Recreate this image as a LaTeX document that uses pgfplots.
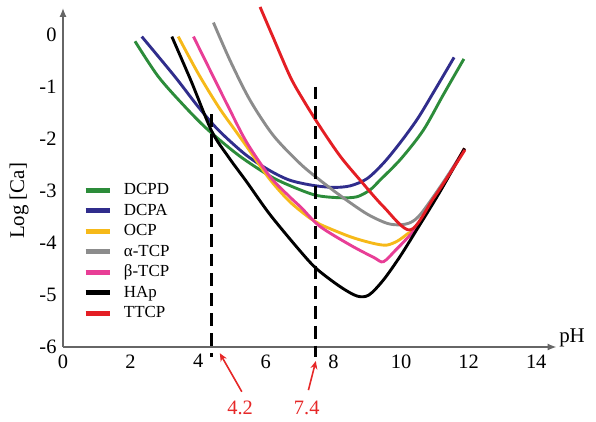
\documentclass[border=0pt]{standalone}
\usepackage{fontspec}
\setmainfont{Liberation Serif}
\usepackage{pgfplots}
\pgfplotsset{compat=1.18}
\usetikzlibrary{arrows.meta}

\definecolor{cDCPD}{RGB}{44,140,58}
\definecolor{cDCPA}{RGB}{48,45,140}
\definecolor{cOCP}{RGB}{246,185,25}
\definecolor{cATCP}{RGB}{140,140,140}
\definecolor{cBTCP}{RGB}{232,62,150}
\definecolor{cTTCP}{RGB}{228,30,36}
\definecolor{cAnn}{RGB}{230,40,40}

\begin{document}
\begin{tikzpicture}
\useasboundingbox (0,0) rectangle (596bp,422bp);
\begin{axis}[
  at={(63bp,75bp)}, anchor=south west,
  scale only axis, width=493.5bp, height=339bp,
  xmin=0, xmax=14.6, ymin=-6, ymax=0.52,
  axis lines=left, clip=false,
  axis line style={draw=gray!80!black, line width=1.3pt, -{Latex[length=9pt,width=7pt]}},
  xtick={0,2,...,14}, xticklabels={0,2,4,6,8,10,12,14},
  ytick={-6,-5,...,0}, yticklabels={-6,-5,-4,-3,-2,-1,0},
  major tick length=0pt,
  tick label style={font=\fontsize{20.5}{24}\selectfont},
  xticklabel style={yshift=-4bp},
  yticklabel style={xshift=-3bp},
  xlabel={pH},
  xlabel style={at={(axis description cs:1.0315,0.026)}, anchor=center, font=\fontsize{21}{24}\selectfont},
  ylabel={Log [Ca]},
  ylabel style={at={(axis description cs:-0.089,0.431)}, anchor=center, font=\fontsize{21}{24}\selectfont},
  every axis plot/.append style={line width=2.9pt, smooth, tension=0.5},
  legend style={at={(axis description cs:0.0405,0.493)}, anchor=north west,
    draw=none, fill=none, inner sep=0pt, row sep=0pt, column sep=10bp,
    font=\fontsize{17}{20.5}\selectfont,
    nodes={inner sep=1.75bp, text height=13bp, text depth=4bp}},
  legend cell align=left,
  legend image code/.code={\draw[#1, line width=5pt] (0bp,0bp) -- (24bp,0bp);},
]
\addplot[cDCPD] coordinates {(2.13,-0.12) (2.82,-0.80) (3.61,-1.38) (4.30,-1.83) (5.21,-2.32) (6.09,-2.70) (6.69,-2.89) (7.47,-3.08) (8.2,-3.13) (8.7,-3.11) (9.08,-2.98) (9.38,-2.79) (10.0,-2.38) (10.66,-1.83) (11.25,-1.15) (11.86,-0.46)};
\addlegendentry{DCPD}
\addplot[cDCPA] coordinates {(2.33,-0.03) (3.31,-0.80) (4.0,-1.38) (4.6,-1.83) (5.4,-2.3) (6.1,-2.6) (6.7,-2.79) (7.38,-2.89) (8.0,-2.93) (8.5,-2.9) (9.0,-2.76) (9.5,-2.45) (10.0,-2.05) (10.5,-1.6) (11.0,-1.06) (11.57,-0.43)};
\addlegendentry{DCPA}
\addplot[cOCP] coordinates {(3.41,-0.03) (4.0,-0.74) (4.6,-1.38) (5.09,-1.83) (5.43,-2.14) (6.1,-2.76) (6.7,-3.2) (7.3,-3.52) (7.6,-3.64) (8.5,-3.88) (9.2,-4.01) (9.58,-4.04) (9.9,-3.96) (10.2,-3.82) (10.45,-3.70) (11.12,-3.02) (11.88,-2.18)};
\addlegendentry{OCP}
\addplot[cATCP] coordinates {(4.45,0.24) (4.95,-0.5) (5.53,-1.25) (6.22,-1.93) (7.01,-2.47) (7.6,-2.79) (8.27,-3.12) (8.99,-3.44) (9.58,-3.62) (9.97,-3.65) (10.3,-3.6) (10.6,-3.43) (11.2,-2.88) (11.88,-2.2)};
\addlegendentry{α-TCP}
\addplot[cBTCP] coordinates {(3.86,-0.03) (4.40,-0.74) (4.89,-1.38) (5.43,-2.06) (6.12,-2.72) (6.72,-3.12) (7.05,-3.32) (7.6,-3.68) (8.5,-4.04) (9.2,-4.28) (9.48,-4.36) (9.85,-4.13) (10.15,-3.93) (10.45,-3.70) (11.12,-3.02) (11.88,-2.18)};
\addlegendentry{β-TCP}
\addplot[black] coordinates {(3.22,-0.03) (3.8,-0.9) (4.4,-1.85) (4.9,-2.35) (5.43,-2.82) (6.12,-3.45) (7.01,-4.15) (7.51,-4.5) (8.2,-4.84) (8.7,-5.02) (9.05,-5.0) (9.48,-4.71) (9.97,-4.26) (10.46,-3.75) (11.12,-3.05) (11.88,-2.18)};
\addlegendentry{HAp}
\addplot[cTTCP] coordinates {(5.83,0.54) (6.2,-0.02) (6.72,-0.80) (7.11,-1.25) (7.6,-1.76) (8.2,-2.33) (8.79,-2.79) (9.48,-3.30) (10.27,-3.75) (10.96,-3.14) (11.45,-2.66) (11.89,-2.21)};
\addlegendentry{TTCP}
% dashed pH markers
\addplot[black, line width=2.6pt, sharp plot, dash pattern=on 13pt off 7pt, forget plot] coordinates {(4.4,-1.52) (4.4,-6.19)};
\addplot[black, line width=2.6pt, sharp plot, dash pattern=on 13pt off 7pt, forget plot] coordinates {(7.47,-0.99) (7.47,-6.19)};
\draw[cAnn, line width=1.6pt, -{Stealth[length=8pt,width=7pt]}] (axis cs:5.29,-6.86) -- (axis cs:4.64,-6.12);
\draw[cAnn, line width=1.6pt, -{Stealth[length=8pt,width=7pt]}] (axis cs:7.26,-6.83) -- (axis cs:7.48,-6.27);
\node[cAnn, font=\fontsize{20.5}{24}\selectfont] at (axis cs:5.24,-7.18) {4.2};
\node[cAnn, font=\fontsize{20.5}{24}\selectfont] at (axis cs:7.21,-7.18) {7.4};
\end{axis}
\end{tikzpicture}
\end{document}
